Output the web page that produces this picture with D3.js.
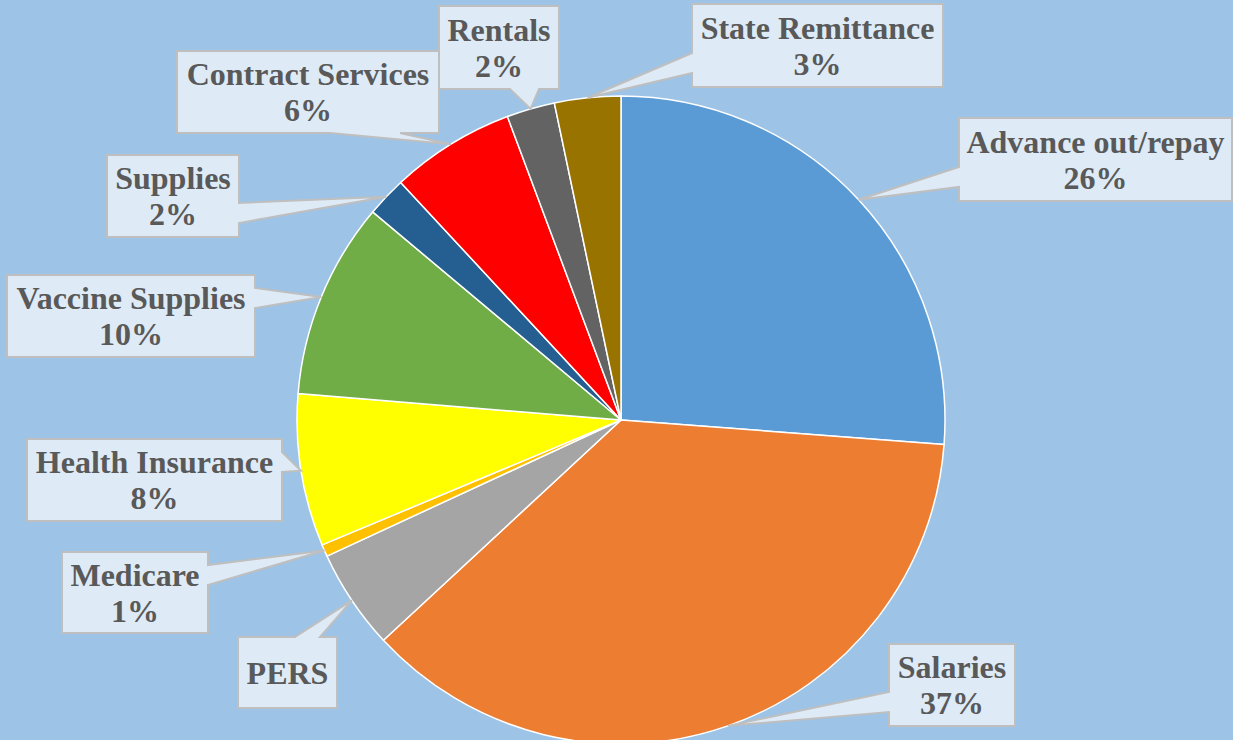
<!DOCTYPE html>
<html>
<head>
<meta charset="utf-8">
<script src="https://cdn.jsdelivr.net/npm/d3@7"></script>
<style>
  html, body { margin: 0; padding: 0; background: #9DC3E6; }
  svg { display: block; }
</style>
</head>
<body>
<svg id="chart" width="1233" height="740"></svg>
<script>
// ---- data ----
const categories = ["Advance out/repay", "Salaries", "PERS", "Medicare", "Health Insurance",
                    "Vaccine Supplies", "Supplies", "Contract Services", "Rentals", "State Remittance"];
const values = [26.2, 36.9, 5.0, 0.6, 7.6, 9.8, 2.0, 6.2, 2.4, 3.3];
const showPercent = [true, true, false, true, true, true, true, true, true, true];
const colors = ["#5B9BD5", "#ED7D31", "#A5A5A5", "#FFC000", "#FFFF00",
                "#70AD47", "#255E91", "#FF0000", "#636363", "#997300"];

// ---- label box layout (x, y, w, h, side the pointer leaves from, pointer base span) ----
const labelLayout = [
  {x: 959, y: 118, w: 273, h: 83, side: "left",   base: [167, 187]},
  {x: 889, y: 644, w: 126, h: 82, side: "left",   base: [692, 712]},
  {x: 238, y: 637, w: 99,  h: 71, side: "top",    base: [295, 320]},
  {x: 62,  y: 552, w: 146, h: 81, side: "right",  base: [565, 585]},
  {x: 27,  y: 439, w: 255, h: 82, side: "right",  base: [452, 472]},
  {x: 7,   y: 275, w: 248, h: 82, side: "right",  base: [288, 308]},
  {x: 107, y: 155, w: 132, h: 82, side: "right",  base: [203, 223]},
  {x: 177, y: 51,  w: 262, h: 82, side: "bottom", base: [330, 400]},
  {x: 439, y: 6,   w: 120, h: 83, side: "bottom", base: [510, 539]},
  {x: 692, y: 4,   w: 251, h: 83, side: "left",   base: [53, 73]}
];

const cx = 621, cy = 420, radius = 324;
const svg = d3.select("#chart");

svg.append("rect").attr("width", 1233).attr("height", 740).attr("fill", "#9DC3E6");

const total = d3.sum(values);
const pie = d3.pie().sort(null).value(d => d)(values);
const arc = d3.arc().innerRadius(0).outerRadius(radius);

const g = svg.append("g").attr("transform", `translate(${cx},${cy})`);
g.selectAll("path.slice")
  .data(pie)
  .join("path")
  .attr("class", "slice")
  .attr("d", arc)
  .attr("fill", (d, i) => colors[i])
  .attr("stroke", "#ffffff")
  .attr("stroke-width", 1.5)
  .attr("stroke-linejoin", "round");

// ---- callouts ----
function calloutPath(L, tip) {
  const x0 = L.x, y0 = L.y, x1 = L.x + L.w, y1 = L.y + L.h;
  const [a, b] = L.base;
  const p = d3.path();
  p.moveTo(x0, y0);
  if (L.side === "top") { p.lineTo(a, y0); p.lineTo(tip[0], tip[1]); p.lineTo(b, y0); }
  p.lineTo(x1, y0);
  if (L.side === "right") { p.lineTo(x1, a); p.lineTo(tip[0], tip[1]); p.lineTo(x1, b); }
  p.lineTo(x1, y1);
  if (L.side === "bottom") { p.lineTo(b, y1); p.lineTo(tip[0], tip[1]); p.lineTo(a, y1); }
  p.lineTo(x0, y1);
  if (L.side === "left") { p.lineTo(x0, b); p.lineTo(tip[0], tip[1]); p.lineTo(x0, a); }
  p.closePath();
  return p.toString();
}

const labels = svg.append("g");
pie.forEach((d, i) => {
  const L = labelLayout[i];
  const mid = (d.startAngle + d.endAngle) / 2;
  const tip = [cx + radius * Math.sin(mid), cy - radius * Math.cos(mid)];
  labels.append("path")
    .attr("d", calloutPath(L, tip))
    .attr("fill", "#DEEBF7")
    .attr("stroke", "#BFBFBF")
    .attr("stroke-width", 2)
    .attr("stroke-linejoin", "miter");

  const pct = Math.round(d.data / total * 100) + "%";
  const lines = showPercent[i] ? [categories[i], pct] : [categories[i]];
  const t = labels.append("text")
    .attr("text-anchor", "middle")
    .attr("font-family", "'Liberation Serif', 'Times New Roman', serif")
    .attr("font-weight", "bold")
    .attr("font-size", 32)
    .attr("fill", "#595959");
  const lineH = 36;
  const midY = L.y + L.h / 2;
  const firstBaseline = midY + 11 - (lines.length - 1) * lineH / 2;
  lines.forEach((s, k) => {
    t.append("tspan")
      .attr("x", L.x + L.w / 2)
      .attr("y", firstBaseline + k * lineH)
      .text(s);
  });
});
</script>
</body>
</html>
